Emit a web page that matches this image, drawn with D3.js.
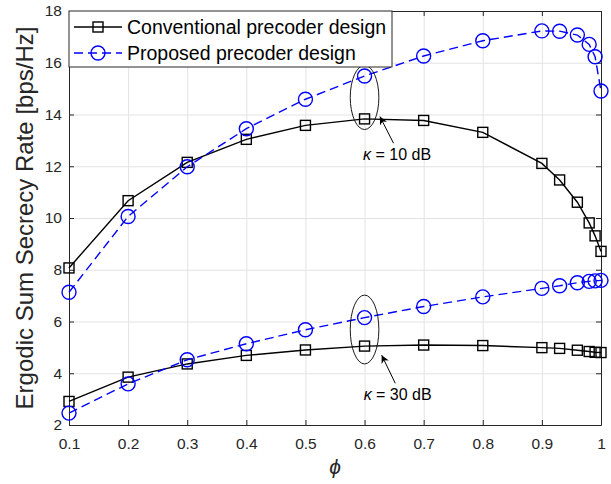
<!DOCTYPE html>
<html>
<head>
<meta charset="utf-8">
<title>ergodic sum secrecy rate</title>
<style>
body { margin: 0; background: #fff; }
text { font-family: "Liberation Sans", Arial, Helvetica, sans-serif; }
.axis path { stroke: #262626; }
.axis line { stroke: #262626; }
.axis text { fill: #262626; font-size: 15.5px; }
.grid line { stroke: #e3e3e3; stroke-width: 1; }
.grid path { stroke: none; }
</style>
</head>
<body>
<script src="https://cdn.jsdelivr.net/npm/d3@7"></script>
<script>

var phi = [0.1, 0.2, 0.3, 0.4, 0.5, 0.6, 0.7, 0.8, 0.9, 0.93, 0.96, 0.98, 0.99, 1]

// kappa = 10 dB
var conv10 = [8.07, 10.67, 12.15, 13.04, 13.58, 13.83, 13.77, 13.31, 12.11, 11.47, 10.61, 9.81, 9.31, 8.71]
var prop10 = [7.13, 10.06, 11.98, 13.45, 14.59, 15.49, 16.26, 16.85, 17.23, 17.22, 17.07, 16.71, 16.23, 14.91]

// kappa = 30 dB
var conv30 = [2.91, 3.85, 4.36, 4.69, 4.90, 5.05, 5.09, 5.07, 4.99, 4.96, 4.89, 4.84, 4.81, 4.80]
var prop30 = [2.46, 3.59, 4.52, 5.14, 5.68, 6.15, 6.58, 6.95, 7.28, 7.38, 7.50, 7.55, 7.57, 7.59]

var xTicks = [0.1, 0.2, 0.3, 0.4, 0.5, 0.6, 0.7, 0.8, 0.9, 1]
var yTicks = [2, 4, 6, 8, 10, 12, 14, 16, 18]

var legendLabels = ['Conventional precoder design', 'Proposed precoder design']

// ellipse + arrow + label, in data units
var notes = [
    {label: '10 dB', cx: 0.6, cy: 14.66, rx: 0.0242, ry: 1.24, tip: [0.626, 13.92], tail: [0.649, 12.89], tx: 0.655, ty: 12.24},
    {label: '30 dB', cx: 0.6, cy: 5.69, rx: 0.0242, ry: 1.33, tip: [0.629, 4.70], tail: [0.652, 3.61], tx: 0.656, ty: 2.97}
]

var width = 611,
    height = 484,
    margin = {top: 11, right: 10, bottom: 59, left: 69}

var svg = d3.select('body').append('svg')
    .attr('width', width)
    .attr('height', height)

var x = d3.scaleLinear().domain([0.1, 1]).range([margin.left, width - margin.right])
var y = d3.scaleLinear().domain([2, 18]).range([height - margin.bottom, margin.top])

var plotW = width - margin.left - margin.right,
    plotH = height - margin.top - margin.bottom

// grid
svg.append('g').attr('class', 'grid')
    .attr('transform', 'translate(0,' + (height - margin.bottom) + ')')
    .call(d3.axisBottom(x).tickValues(xTicks).tickSize(-plotH).tickFormat(''))
svg.append('g').attr('class', 'grid')
    .attr('transform', 'translate(' + margin.left + ',0)')
    .call(d3.axisLeft(y).tickValues(yTicks).tickSize(-plotW).tickFormat(''))

// axes, ticks pointing inward on all four sides
svg.append('g').attr('class', 'axis')
    .attr('transform', 'translate(0,' + (height - margin.bottom) + ')')
    .call(d3.axisBottom(x).tickValues(xTicks).tickSizeInner(-5).tickSizeOuter(0).tickPadding(13).tickFormat(d3.format('')))
svg.append('g').attr('class', 'axis')
    .attr('transform', 'translate(0,' + margin.top + ')')
    .call(d3.axisTop(x).tickValues(xTicks).tickSizeInner(-5).tickSizeOuter(0).tickFormat(''))
svg.append('g').attr('class', 'axis')
    .attr('transform', 'translate(' + margin.left + ',0)')
    .call(d3.axisLeft(y).tickValues(yTicks).tickSizeInner(-5).tickSizeOuter(0).tickPadding(7))
svg.append('g').attr('class', 'axis')
    .attr('transform', 'translate(' + (width - margin.right) + ',0)')
    .call(d3.axisRight(y).tickValues(yTicks).tickSizeInner(-5).tickSizeOuter(0).tickFormat(''))

// series
var series = [
    {vals: conv10, color: '#000', dash: null, mark: 'square'},
    {vals: conv30, color: '#000', dash: null, mark: 'square'},
    {vals: prop10, color: '#0000ff', dash: '9,5', mark: 'circle'},
    {vals: prop30, color: '#0000ff', dash: '9,5', mark: 'circle'}
]

var line = d3.line()
    .x(function(d) { return x(d[0]) })
    .y(function(d) { return y(d[1]) })

function drawMarker(g, mark, color) {
    if (mark === 'square') {
        g.append('rect').attr('x', -5).attr('y', -5).attr('width', 10).attr('height', 10)
            .attr('fill', 'none').attr('stroke', color).attr('stroke-width', 1.4)
    } else {
        g.append('circle').attr('r', 7)
            .attr('fill', 'none').attr('stroke', color).attr('stroke-width', 1.4)
    }
}

series.forEach(function(s) {
    var pts = phi.map(function(p, i) { return [p, s.vals[i]] })
    svg.append('path').datum(pts)
        .attr('d', line)
        .attr('fill', 'none')
        .attr('stroke', s.color)
        .attr('stroke-width', 1.4)
        .attr('stroke-dasharray', s.dash)
    pts.forEach(function(p) {
        var g = svg.append('g').attr('transform', 'translate(' + x(p[0]) + ',' + y(p[1]) + ')')
        drawMarker(g, s.mark, s.color)
    })
})

// annotations
svg.append('defs').append('marker')
    .attr('id', 'head')
    .attr('viewBox', '0 0 10 10')
    .attr('refX', 10).attr('refY', 5)
    .attr('markerWidth', 10).attr('markerHeight', 8)
    .attr('markerUnits', 'userSpaceOnUse')
    .attr('orient', 'auto')
    .append('path').attr('d', 'M0,0 L10,5 L0,10 L3,5 Z').attr('fill', '#000')

notes.forEach(function(n) {
    svg.append('ellipse')
        .attr('cx', x(n.cx)).attr('cy', y(n.cy))
        .attr('rx', x(n.cx + n.rx) - x(n.cx))
        .attr('ry', y(n.cy - n.ry) - y(n.cy))
        .attr('fill', 'none').attr('stroke', '#000').attr('stroke-width', 0.9)
    svg.append('line')
        .attr('x1', x(n.tail[0])).attr('y1', y(n.tail[1]))
        .attr('x2', x(n.tip[0])).attr('y2', y(n.tip[1]))
        .attr('stroke', '#000').attr('stroke-width', 1)
        .attr('marker-end', 'url(#head)')
    var t = svg.append('text')
        .attr('x', x(n.tx)).attr('y', y(n.ty))
        .attr('text-anchor', 'middle')
        .attr('font-size', 16)
        .attr('fill', '#000')
    t.append('tspan').attr('font-style', 'italic').text('\u03ba')
    t.append('tspan').text(' = ' + n.label)
})

// legend
var lg = svg.append('g').attr('transform', 'translate(' + margin.left + ',' + margin.top + ')')
lg.append('rect').attr('x', 0).attr('y', 0).attr('width', 323).attr('height', 56)
    .attr('fill', '#fff').attr('stroke', '#262626').attr('stroke-width', 1)
var legendStyle = [series[0], series[2]]
legendLabels.forEach(function(lab, i) {
    var yy = 16 + i * 26
    var s = legendStyle[i]
    lg.append('line').attr('x1', 5).attr('x2', 53).attr('y1', yy).attr('y2', yy)
        .attr('stroke', s.color).attr('stroke-width', 1.4)
        .attr('stroke-dasharray', s.dash ? '9,5' : null)
    drawMarker(lg.append('g').attr('transform', 'translate(29,' + yy + ')'), s.mark, s.color)
    lg.append('text').attr('x', 58).attr('y', yy).attr('dy', '0.35em')
        .attr('font-size', 19.5).attr('fill', '#000').text(lab)
})

// axis labels
svg.append('text')
    .attr('transform', 'translate(33,' + (margin.top + plotH / 2) + ') rotate(-90)')
    .attr('text-anchor', 'middle')
    .attr('font-size', 24)
    .attr('fill', '#262626')
    .text('Ergodic Sum Secrecy Rate [bps/Hz]')

svg.append('text')
    .attr('x', margin.left + plotW / 2)
    .attr('y', 474)
    .attr('text-anchor', 'middle')
    .attr('font-family', '"DejaVu Serif", "Liberation Serif", serif')
    .attr('font-style', 'italic')
    .attr('font-size', 21)
    .attr('fill', '#262626')
    .text('\u03d5')

</script>
</body>
</html>
